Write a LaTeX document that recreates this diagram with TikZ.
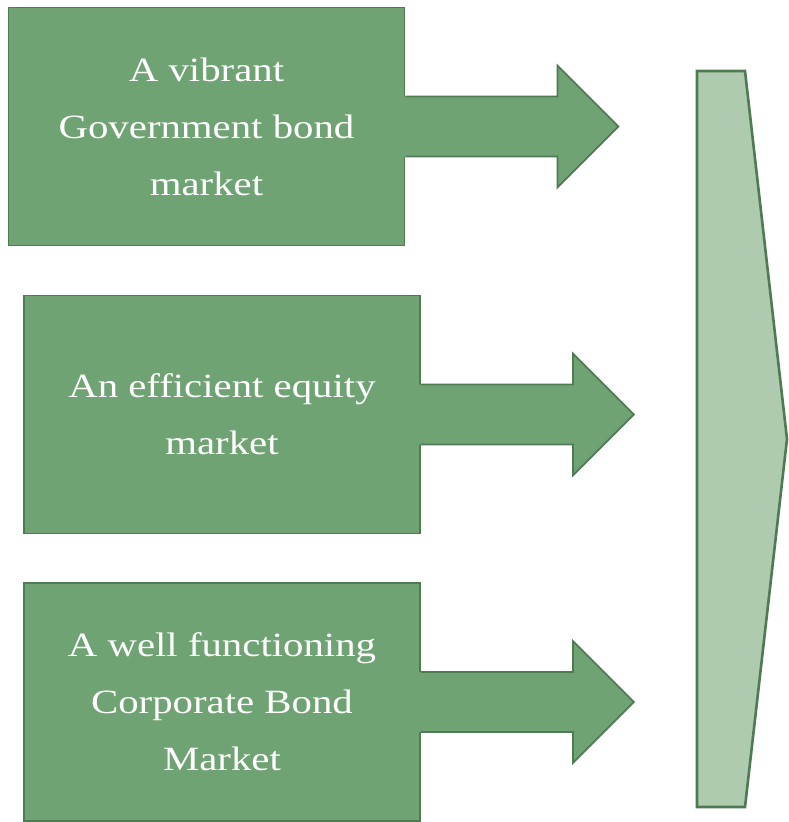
\documentclass[tikz,border=0pt]{standalone}
\usepackage{fontspec}
\setmainfont[FakeStretch=1.2]{Liberation Serif}
\usepackage{tikz}
\usetikzlibrary{calc}
\definecolor{MGreen}{HTML}{70A374}
\definecolor{MEdge}{HTML}{4E7B52}
\definecolor{MPale}{HTML}{AFCBAF}

\begin{document}
\begin{tikzpicture}[
  x=1pt,y=-1pt,
  mkt/.style={draw=MEdge,line width=1.8pt,fill=MGreen,text=white,
    minimum width=396pt,minimum height=238pt,align=center,
    font=\fontsize{34}{57}\selectfont},
  edge/.style={draw=MEdge,line width=1.8pt,line join=miter}
]
  \useasboundingbox (0,0) rectangle (788,822);
  \node[mkt] (gov) at (206.5,126.5) {A vibrant\\Government bond\\market};
  \node[mkt] (equity) at (222,414.5) {An efficient equity\\market};
  \node[mkt] (corp) at (222,702) {A well functioning\\Corporate Bond\\Market};
  % block arrows out of each box
  \foreach \b in {gov,equity,corp}{
    \fill[MGreen] ($(\b.east)+(-3,-30)$) -- ++(155,0) -- ++(0,-31) -- ++(61,61)
      -- ++(-61,61) -- ++(0,-31) -- ++(-155,0) -- cycle;
    \draw[edge] ($(\b.east)+(0,-30)$) -- ++(152,0) -- ++(0,-31) -- ++(61,61)
      -- ++(-61,61) -- ++(0,-31) -- ++(-152,0);
  }
  % tall chevron on the right
  \coordinate (top) at (697,71);
  \coordinate (bot) at (697,807);
  \filldraw[fill=MPale,draw=MEdge,line width=2.6pt,line join=miter]
    (top) -- (745,71) -- (787,439) -- (745,807) -- (bot) -- cycle;
\end{tikzpicture}
\end{document}
